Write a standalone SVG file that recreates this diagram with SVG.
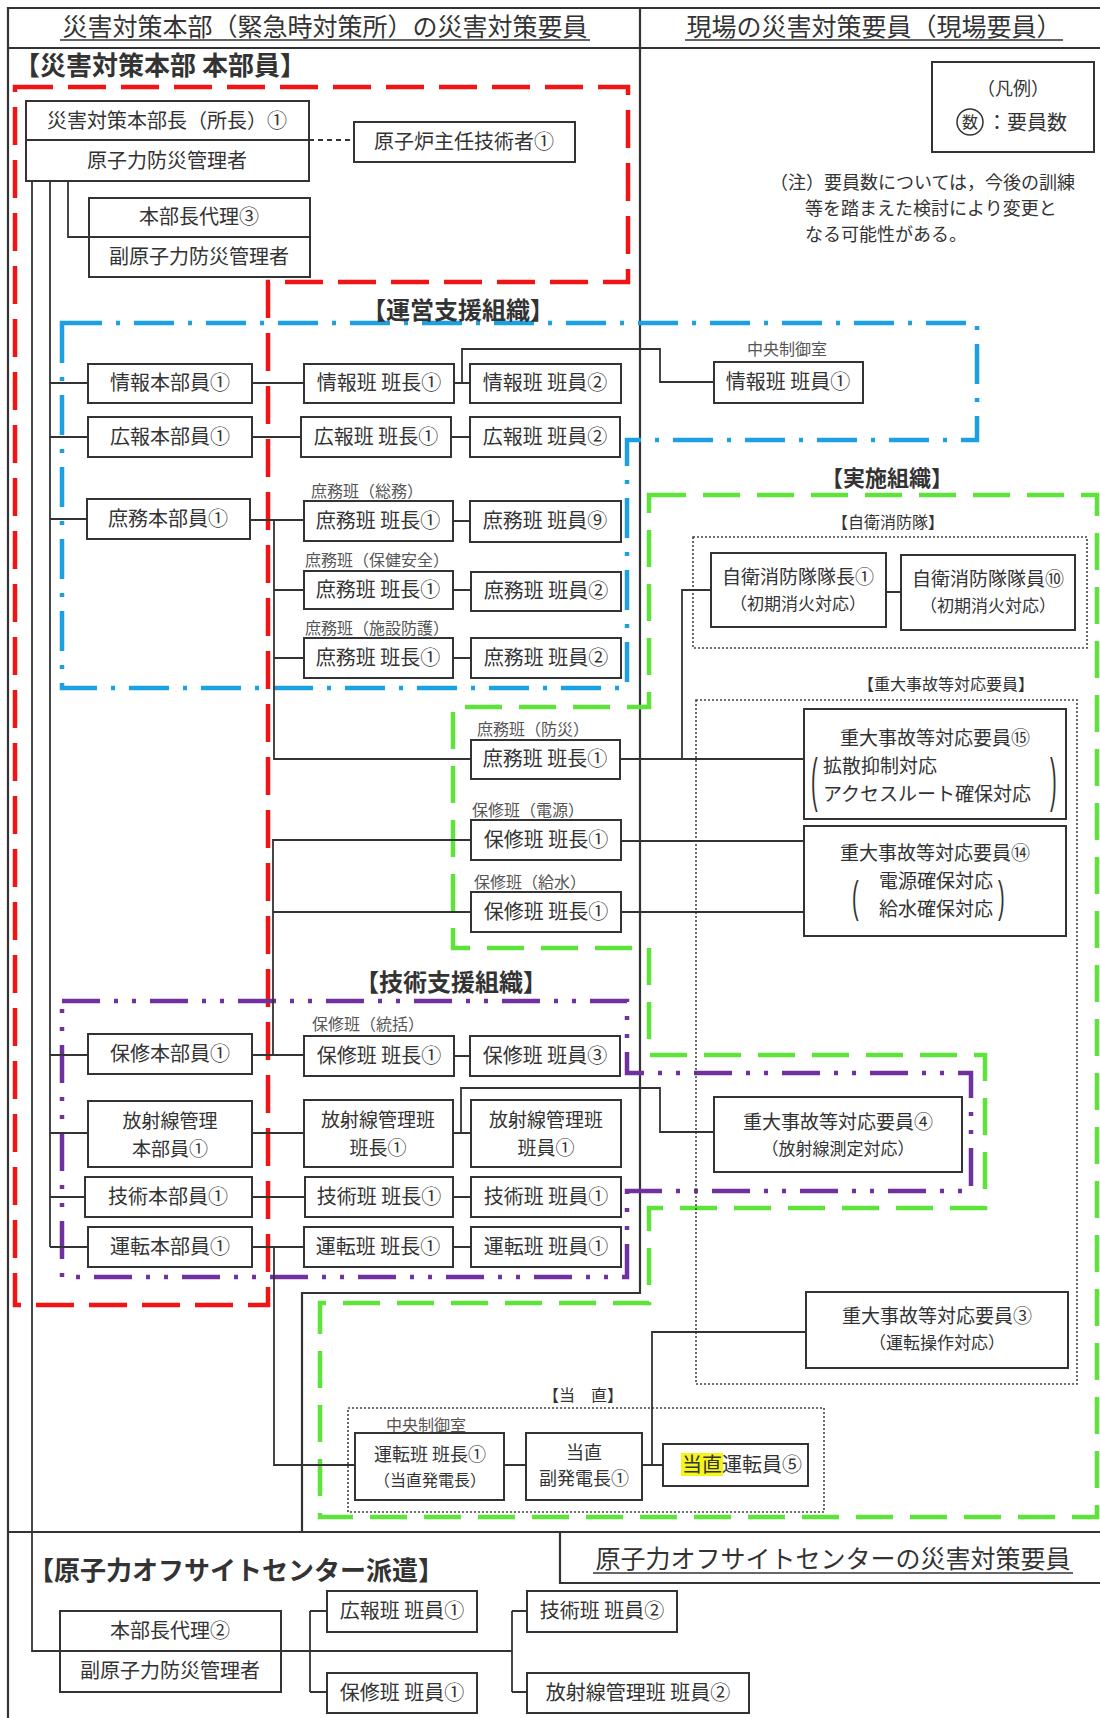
<svg xmlns="http://www.w3.org/2000/svg" width="1100" height="1718" viewBox="0 0 1100 1718">
<style>
text{font-family:"Noto Sans CJK JP","Noto Sans",sans-serif;fill:#333}
.t{font-size:20px;text-anchor:middle}
.t9{font-size:19px;text-anchor:middle}
.ts{font-size:17px;text-anchor:middle}
.lb{font-size:16px;fill:#555}
.b{fill:#fff;stroke:#333;stroke-width:2}
.c{fill:none;stroke:#333;stroke-width:1.8}
.fr{fill:none;stroke:#333;stroke-width:2.2}
.dot{fill:none;stroke:#444;stroke-width:1.6;stroke-dasharray:2 2}
.g{fill:none;stroke-width:4.5}
.h{font-size:25px;text-anchor:middle}
.ul{stroke:#333;stroke-width:1.5}
.br{font-family:"Liberation Sans",sans-serif;font-size:20px}
.grp{font-weight:bold;text-anchor:middle}
</style>

<g id="frame">
<path class="fr" d="M8,1718 V8 H1100 M8,48 H1100 M8,1532 H1100"/>
<path class="fr" d="M640,8 V1293 H302 V1532"/>
<path class="fr" d="M560,1532 V1583 H1100"/>
<text class="h" x="325" y="36">災害対策本部（緊急時対策所）の災害対策要員</text>
<line class="ul" x1="60" y1="40" x2="590" y2="40"/>
<text class="h" x="874" y="36">現場の災害対策要員（現場要員）</text>
<line class="ul" x1="685" y1="40" x2="1063" y2="40"/>
<text class="h" x="833" y="1568">原子力オフサイトセンターの災害対策要員</text>
<line class="ul" x1="593" y1="1573" x2="1073" y2="1573"/>
</g>

<g id="legend">
<rect x="932" y="62" width="162" height="90" fill="none" stroke="#333" stroke-width="2"/>
<text x="1013" y="95" font-size="18" text-anchor="middle">（凡例）</text>
<circle cx="970" cy="122" r="13" fill="none" stroke="#333" stroke-width="1.5"/>
<text x="970" y="128" font-size="16" text-anchor="middle">数</text>
<text x="987" y="130" font-size="20">：要員数</text>
<text x="770" y="189" font-size="18">（注）要員数については，今後の訓練</text>
<text x="805" y="215" font-size="18">等を踏まえた検討により変更と</text>
<text x="805" y="241" font-size="18">なる可能性がある。</text>
</g>

<g id="groups">
<path class="g" stroke="#f01414" stroke-dasharray="38 15" d="M15,87 H628 V282 H268 V1305 H15 Z"/>
<path class="g" stroke="#1ba1e2" stroke-width="4" stroke-dasharray="40 14 4 14" d="M62,323 H977 V440 H627 V688 H62 Z"/>
<path class="g" stroke="#5ee33a" stroke-width="4" stroke-dasharray="37 17" d="M649,495 H1097 V1517 H320 V1303 H649 V1208 H985 V1055 H649 V948 H453 V707 H649 Z"/>
<path class="g" stroke="#7030a0" stroke-width="4" stroke-dasharray="38 14 4 14 4 14" d="M62,1001 H627 V1073 H971 V1191 H627 V1277 H62 Z"/>
<rect class="dot" x="693" y="537" width="394" height="111"/>
<rect class="dot" x="696" y="700" width="381" height="684"/>
<rect class="dot" x="348" y="1408" width="476" height="104"/>
<text x="160" y="75" font-size="26" fill="#f01414" class="grp">【災害対策本部 本部員】</text>
<text x="458" y="319" font-size="24" fill="#1ba1e2" class="grp">【運営支援組織】</text>
<text x="887" y="486" font-size="22" fill="#4fd28a" class="grp">【実施組織】</text>
<text x="451" y="991" font-size="24" fill="#7030a0" class="grp">【技術支援組織】</text>
<text x="236" y="1580" font-size="26" fill="#f5b000" class="grp">【原子力オフサイトセンター派遣】</text>
<text x="888" y="528" font-size="16" text-anchor="middle">【自衛消防隊】</text>
<text x="946" y="690" font-size="16" text-anchor="middle">【重大事故等対応要員】</text>
<text x="583" y="1401" font-size="16" text-anchor="middle">【当　直】</text>
</g>

<g id="connectors">
<path class="c" stroke-dasharray="5 4" d="M309,140 H354"/>
<path class="c" d="M68,181 V237 H89"/>
<path class="c" d="M32,181 V1651 H60 M281,1651 H512 M310,1611 V1692 M310,1611 H327 M310,1692 H327 M512,1611 V1692 M512,1611 H527 M512,1692 H527"/>
<path class="c" d="M50,181 V1247 M50,383 H88 M50,437 H88 M50,519 H87 M50,1055 H88 M50,1133 H88 M50,1197 H85 M50,1247 H88"/>
<path class="c" d="M252,383 H304 M252,437 H301 M250,520 H304 M252,1055 H304 M252,1133 H304 M252,1197 H305 M252,1247 H304"/>
<path class="c" d="M454,383 H470 M451,437 H470 M453,521 H470 M453,590 H471 M453,658 H471 M454,1056 H470 M453,1133 H471 M453,1197 H471 M453,1247 H471"/>
<path class="c" d="M462,383 V349 H660 V382 H714"/>
<path class="c" d="M461,1133 V1088 H660 V1132 H714"/>
<path class="c" d="M274,520 V759 H471 M274,590 H304 M274,658 H304"/>
<path class="c" d="M273,1055 V840 H471 M273,912 H471"/>
<path class="c" d="M274,1247 V1465 H355"/>
<path class="c" d="M620,759 H804 M682,759 V590 H711 M886,592 H901"/>
<path class="c" d="M621,841 H804 M621,912 H804"/>
<path class="c" d="M504,1465 H526 M642,1465 H663 M652,1465 V1332 H806"/>
</g>

<g id="n-honbucho">
<rect class="b" x="26" y="101" width="283" height="80"/>
<line x1="26" y1="140" x2="309" y2="140" stroke="#333" stroke-width="2"/>
<text class="t" x="167" y="128">災害対策本部長（所長）①</text>
<text class="t" x="167" y="168">原子力防災管理者</text>
</g>
<g id="n-shunin"><rect class="b" x="354" y="122" width="221" height="40"/><text class="t" x="464" y="149">原子炉主任技術者①</text></g>
<g id="n-dairi3">
<rect class="b" x="89" y="198" width="221" height="79"/>
<line x1="89" y1="237" x2="310" y2="237" stroke="#333" stroke-width="2"/>
<text class="t" x="199" y="224">本部長代理③</text>
<text class="t" x="199" y="264">副原子力防災管理者</text>
</g>

<g id="n-joho-hq"><rect class="b" x="88" y="364" width="164" height="39"/><text class="t" x="170" y="390">情報本部員①</text></g>
<g id="n-joho-cho"><rect class="b" x="304" y="364" width="150" height="39"/><text class="t" x="379" y="390">情報班 班長①</text></g>
<g id="n-joho-in"><rect class="b" x="470" y="364" width="151" height="39"/><text class="t" x="545" y="390">情報班 班員②</text></g>
<g id="n-joho-ccr">
<text class="lb" x="787" y="355" text-anchor="middle" font-size="17">中央制御室</text>
<rect class="b" x="714" y="362" width="149" height="41"/><text class="t" x="788" y="389">情報班 班員①</text></g>
<g id="n-koho-hq"><rect class="b" x="88" y="417" width="164" height="40"/><text class="t" x="170" y="444">広報本部員①</text></g>
<g id="n-koho-cho"><rect class="b" x="301" y="417" width="150" height="40"/><text class="t" x="376" y="444">広報班 班長①</text></g>
<g id="n-koho-in"><rect class="b" x="470" y="417" width="150" height="40"/><text class="t" x="545" y="444">広報班 班員②</text></g>

<g id="n-shomu-hq"><rect class="b" x="87" y="499" width="163" height="40"/><text class="t" x="168" y="526">庶務本部員①</text></g>
<g id="n-shomu1-cho"><text class="lb" x="311" y="497">庶務班（総務）</text><rect class="b" x="304" y="501" width="149" height="40"/><text class="t" x="378" y="528">庶務班 班長①</text></g>
<g id="n-shomu1-in"><rect class="b" x="470" y="501" width="151" height="41"/><text class="t" x="545" y="528">庶務班 班員⑨</text></g>
<g id="n-shomu2-cho"><text class="lb" x="305" y="566">庶務班（保健安全）</text><rect class="b" x="304" y="571" width="149" height="38"/><text class="t" x="378" y="597">庶務班 班長①</text></g>
<g id="n-shomu2-in"><rect class="b" x="471" y="572" width="150" height="39"/><text class="t" x="546" y="598">庶務班 班員②</text></g>
<g id="n-shomu3-cho"><text class="lb" x="305" y="634">庶務班（施設防護）</text><rect class="b" x="304" y="638" width="149" height="40"/><text class="t" x="378" y="665">庶務班 班長①</text></g>
<g id="n-shomu3-in"><rect class="b" x="471" y="638" width="150" height="40"/><text class="t" x="546" y="665">庶務班 班員②</text></g>

<g id="n-bosai"><text class="lb" x="477" y="735">庶務班（防災）</text><rect class="b" x="471" y="740" width="149" height="39"/><text class="t" x="545" y="766">庶務班 班長①</text></g>
<g id="n-dengen"><text class="lb" x="472" y="816">保修班（電源）</text><rect class="b" x="471" y="820" width="150" height="40"/><text class="t" x="546" y="847">保修班 班長①</text></g>
<g id="n-kyusui"><text class="lb" x="474" y="888">保修班（給水）</text><rect class="b" x="471" y="892" width="150" height="40"/><text class="t" x="546" y="919">保修班 班長①</text></g>

<g id="n-jieicho"><rect class="b" x="711" y="553" width="175" height="74"/><text class="t9" x="798" y="584">自衛消防隊隊長①</text><text class="ts" x="798" y="610">（初期消火対応）</text></g>
<g id="n-jieiin"><rect class="b" x="901" y="555" width="174" height="75"/><text class="t9" x="988" y="586">自衛消防隊隊員⑩</text><text class="ts" x="988" y="612">（初期消火対応）</text></g>

<g id="n-jyudai15">
<rect class="b" x="804" y="709" width="262" height="110"/>
<text class="t9" x="935" y="745">重大事故等対応要員⑮</text>
<text x="823" y="773" font-size="19">拡散抑制対応</text>
<text x="823" y="801" font-size="19">アクセスルート確保対応</text>
<text class="br" transform="translate(811,800) scale(1,3)">(</text>
<text class="br" transform="translate(1050,800) scale(1,3)">)</text>
</g>
<g id="n-jyudai14">
<rect class="b" x="804" y="826" width="262" height="110"/>
<text class="t9" x="935" y="860">重大事故等対応要員⑭</text>
<text class="t9" x="936" y="888">電源確保対応</text>
<text class="t9" x="936" y="916">給水確保対応</text>
<text class="br" transform="translate(852,912) scale(1,2.2)">(</text>
<text class="br" transform="translate(998,912) scale(1,2.2)">)</text>
</g>

<g id="n-hoshu-hq"><rect class="b" x="88" y="1034" width="164" height="40"/><text class="t" x="170" y="1061">保修本部員①</text></g>
<g id="n-hoshu-cho"><text class="lb" x="312" y="1030">保修班（統括）</text><rect class="b" x="304" y="1036" width="150" height="40"/><text class="t" x="379" y="1063">保修班 班長①</text></g>
<g id="n-hoshu-in"><rect class="b" x="470" y="1036" width="150" height="40"/><text class="t" x="545" y="1063">保修班 班員③</text></g>
<g id="n-hoshasen-hq"><rect class="b" x="88" y="1101" width="164" height="66"/><text class="t9" x="170" y="1128">放射線管理</text><text class="t9" x="170" y="1156">本部員①</text></g>
<g id="n-hoshasen-cho"><rect class="b" x="304" y="1100" width="149" height="67"/><text class="t9" x="378" y="1127">放射線管理班</text><text class="t9" x="378" y="1155">班長①</text></g>
<g id="n-hoshasen-in"><rect class="b" x="471" y="1100" width="150" height="67"/><text class="t9" x="546" y="1127">放射線管理班</text><text class="t9" x="546" y="1155">班員①</text></g>
<g id="n-jyudai4"><rect class="b" x="714" y="1097" width="248" height="75"/><text class="t9" x="838" y="1129">重大事故等対応要員④</text><text class="ts" x="838" y="1155">（放射線測定対応）</text></g>
<g id="n-gijutsu-hq"><rect class="b" x="85" y="1177" width="167" height="40"/><text class="t" x="168" y="1204">技術本部員①</text></g>
<g id="n-gijutsu-cho"><rect class="b" x="305" y="1177" width="148" height="40"/><text class="t" x="379" y="1204">技術班 班長①</text></g>
<g id="n-gijutsu-in"><rect class="b" x="471" y="1177" width="150" height="40"/><text class="t" x="546" y="1204">技術班 班員①</text></g>
<g id="n-unten-hq"><rect class="b" x="88" y="1227" width="164" height="40"/><text class="t" x="170" y="1254">運転本部員①</text></g>
<g id="n-unten-cho"><rect class="b" x="304" y="1227" width="149" height="40"/><text class="t" x="378" y="1254">運転班 班長①</text></g>
<g id="n-unten-in"><rect class="b" x="471" y="1227" width="150" height="40"/><text class="t" x="546" y="1254">運転班 班員①</text></g>

<g id="n-jyudai3"><rect class="b" x="806" y="1292" width="262" height="76"/><text class="t9" x="937" y="1323">重大事故等対応要員③</text><text class="ts" x="937" y="1349">（運転操作対応）</text></g>

<g id="n-hatsudencho">
<text class="lb" x="386" y="1431" font-size="17">中央制御室</text>
<rect class="b" x="355" y="1433" width="149" height="67"/>
<text x="430" y="1461" font-size="18" text-anchor="middle" fill="#666">運転班 班長①</text>
<text x="430" y="1486" font-size="16" text-anchor="middle" fill="#666">（当直発電長）</text>
</g>
<g id="n-fukuhatsudencho"><rect class="b" x="526" y="1433" width="116" height="67"/><text x="584" y="1459" font-size="18" text-anchor="middle" fill="#666">当直</text><text x="584" y="1485" font-size="18" text-anchor="middle" fill="#666">副発電長①</text></g>
<g id="n-untenin"><rect class="b" x="663" y="1444" width="145" height="42"/><rect x="681" y="1453" width="42" height="23" fill="#f5f51a"/><text x="682" y="1472" font-size="20" fill="#555">当直運転員⑤</text></g>

<g id="n-dairi2">
<rect class="b" x="60" y="1611" width="221" height="81"/>
<line x1="60" y1="1651" x2="281" y2="1651" stroke="#333" stroke-width="2"/>
<text class="t" x="170" y="1638">本部長代理②</text>
<text class="t" x="170" y="1678">副原子力防災管理者</text>
</g>
<g id="n-os-koho"><rect class="b" x="327" y="1591" width="150" height="41"/><text class="t" x="402" y="1618">広報班 班員①</text></g>
<g id="n-os-hoshu"><rect class="b" x="327" y="1673" width="150" height="40"/><text class="t" x="402" y="1700">保修班 班員①</text></g>
<g id="n-os-gijutsu"><rect class="b" x="527" y="1591" width="150" height="41"/><text class="t" x="602" y="1618">技術班 班員②</text></g>
<g id="n-os-hoshasen"><rect class="b" x="527" y="1673" width="222" height="40"/><text class="t" x="638" y="1700">放射線管理班 班員②</text></g>
</svg>
